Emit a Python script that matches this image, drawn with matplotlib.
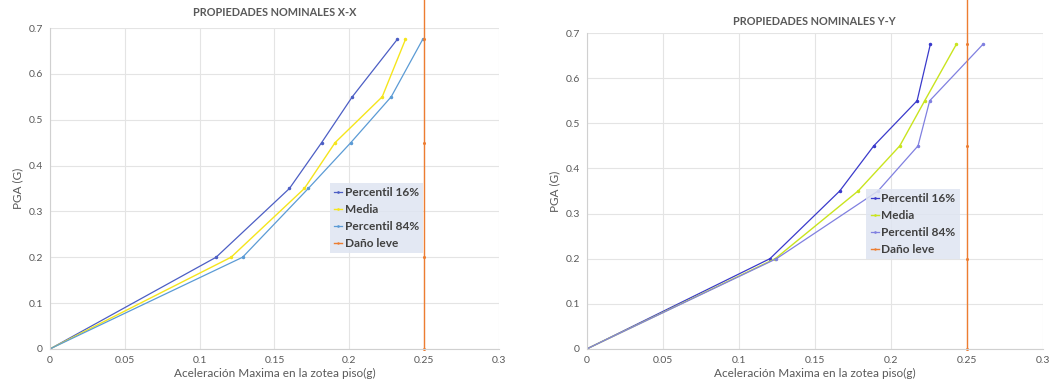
import matplotlib.pyplot as plt

plt.rcParams['font.family'] = ['Lato', 'DejaVu Sans']

pga = [0, 0.2, 0.35, 0.45, 0.55, 0.675]

# X-X
xx_p16 = [0, 0.111, 0.160, 0.1815, 0.202, 0.232]
xx_media = [0, 0.121, 0.170, 0.1905, 0.222, 0.2375]
xx_p84 = [0, 0.1287, 0.1726, 0.201, 0.228, 0.249]

# Y-Y
yy_p16 = [0, 0.1205, 0.1664, 0.1888, 0.2173, 0.226]
yy_media = [0, 0.124, 0.1785, 0.2059, 0.2223, 0.2431]
yy_p84 = [0, 0.1248, 0.1916, 0.2179, 0.2256, 0.2606]

dano_x = [0.25, 0.25, 0.25, 0.25, 0.25]
dano_y = [0, 0.2, 0.45, 0.675, 0.78]

labels = ['Percentil 16%', 'Media', 'Percentil 84%', 'Daño leve']
xticks = [0, 0.05, 0.1, 0.15, 0.2, 0.25, 0.3]
yticks = [0, 0.1, 0.2, 0.3, 0.4, 0.5, 0.6, 0.7]

fig = plt.figure(figsize=(10.63, 3.89), dpi=100)
ax1 = fig.add_axes([0.047, 0.103, 0.4224, 0.825])
ax2 = fig.add_axes([0.552, 0.103, 0.429, 0.812])


def draw(ax, p16, media, p84, cols, title, legpos, tpad):
    ax.plot(p16, pga, color=cols[0], lw=0.9, marker='o', ms=1.5, label=labels[0])
    ax.plot(media, pga, color=cols[1], lw=1.0, marker='o', ms=1.5, label=labels[1])
    ax.plot(p84, pga, color=cols[2], lw=0.9, marker='o', ms=1.5, label=labels[2])
    ax.plot(dano_x, dano_y, color='#ed7d31', lw=1.0, marker='o', ms=1.2,
            label=labels[3], clip_on=False)
    ax.set_xlim(0, 0.3)
    ax.set_ylim(0, 0.7)
    ax.set_xticks(xticks)
    ax.set_xticklabels(['0', '0.05', '0.1', '0.15', '0.2', '0.25', '0.3'])
    ax.set_yticks(yticks)
    ax.set_yticklabels(['0', '0.1', '0.2', '0.3', '0.4', '0.5', '0.6', '0.7'])
    ax.grid(True, color='#e4e4e4', lw=0.8)
    ax.set_axisbelow(True)
    for s in ['top', 'right']:
        ax.spines[s].set_visible(False)
    for s in ['left', 'bottom']:
        ax.spines[s].set_color('#d0d0d0')
    ax.tick_params(length=0, labelsize=7.5, colors='#595959', pad=5)
    ax.set_title(title, fontsize=7.8, fontweight='bold', color='#595959', pad=tpad)
    ax.set_xlabel('Aceleración Maxima en la zotea piso(g)', fontsize=8.5,
                  color='#595959', labelpad=2)
    ax.set_ylabel('PGA (G)', fontsize=8.5, color='#595959', labelpad=4)
    leg = ax.legend(loc='upper left', bbox_to_anchor=legpos, frameon=True,
                    fontsize=8.6, handlelength=0.7, handletextpad=0.2,
                    labelspacing=0.5, borderpad=0.35, fancybox=False,
                    markerscale=0.6)
    leg.get_frame().set_facecolor('#dfe5f2')
    leg.get_frame().set_edgecolor('none')
    leg.get_frame().set_alpha(0.85)
    for t in leg.get_texts():
        t.set_color('#404040')
        t.set_fontweight('bold')


draw(ax1, xx_p16, xx_media, xx_p84, ['#4c5ec4', '#f5e51c', '#5b9bd5'],
     'PROPIEDADES NOMINALES X-X', (0.61, 0.535), 9)
draw(ax2, yy_p16, yy_media, yy_p84, ['#3a3acb', '#c9e41e', '#8080e0'],
     'PROPIEDADES NOMINALES Y-Y', (0.6, 0.525), 6)

fig.savefig('out.png', dpi=100)
